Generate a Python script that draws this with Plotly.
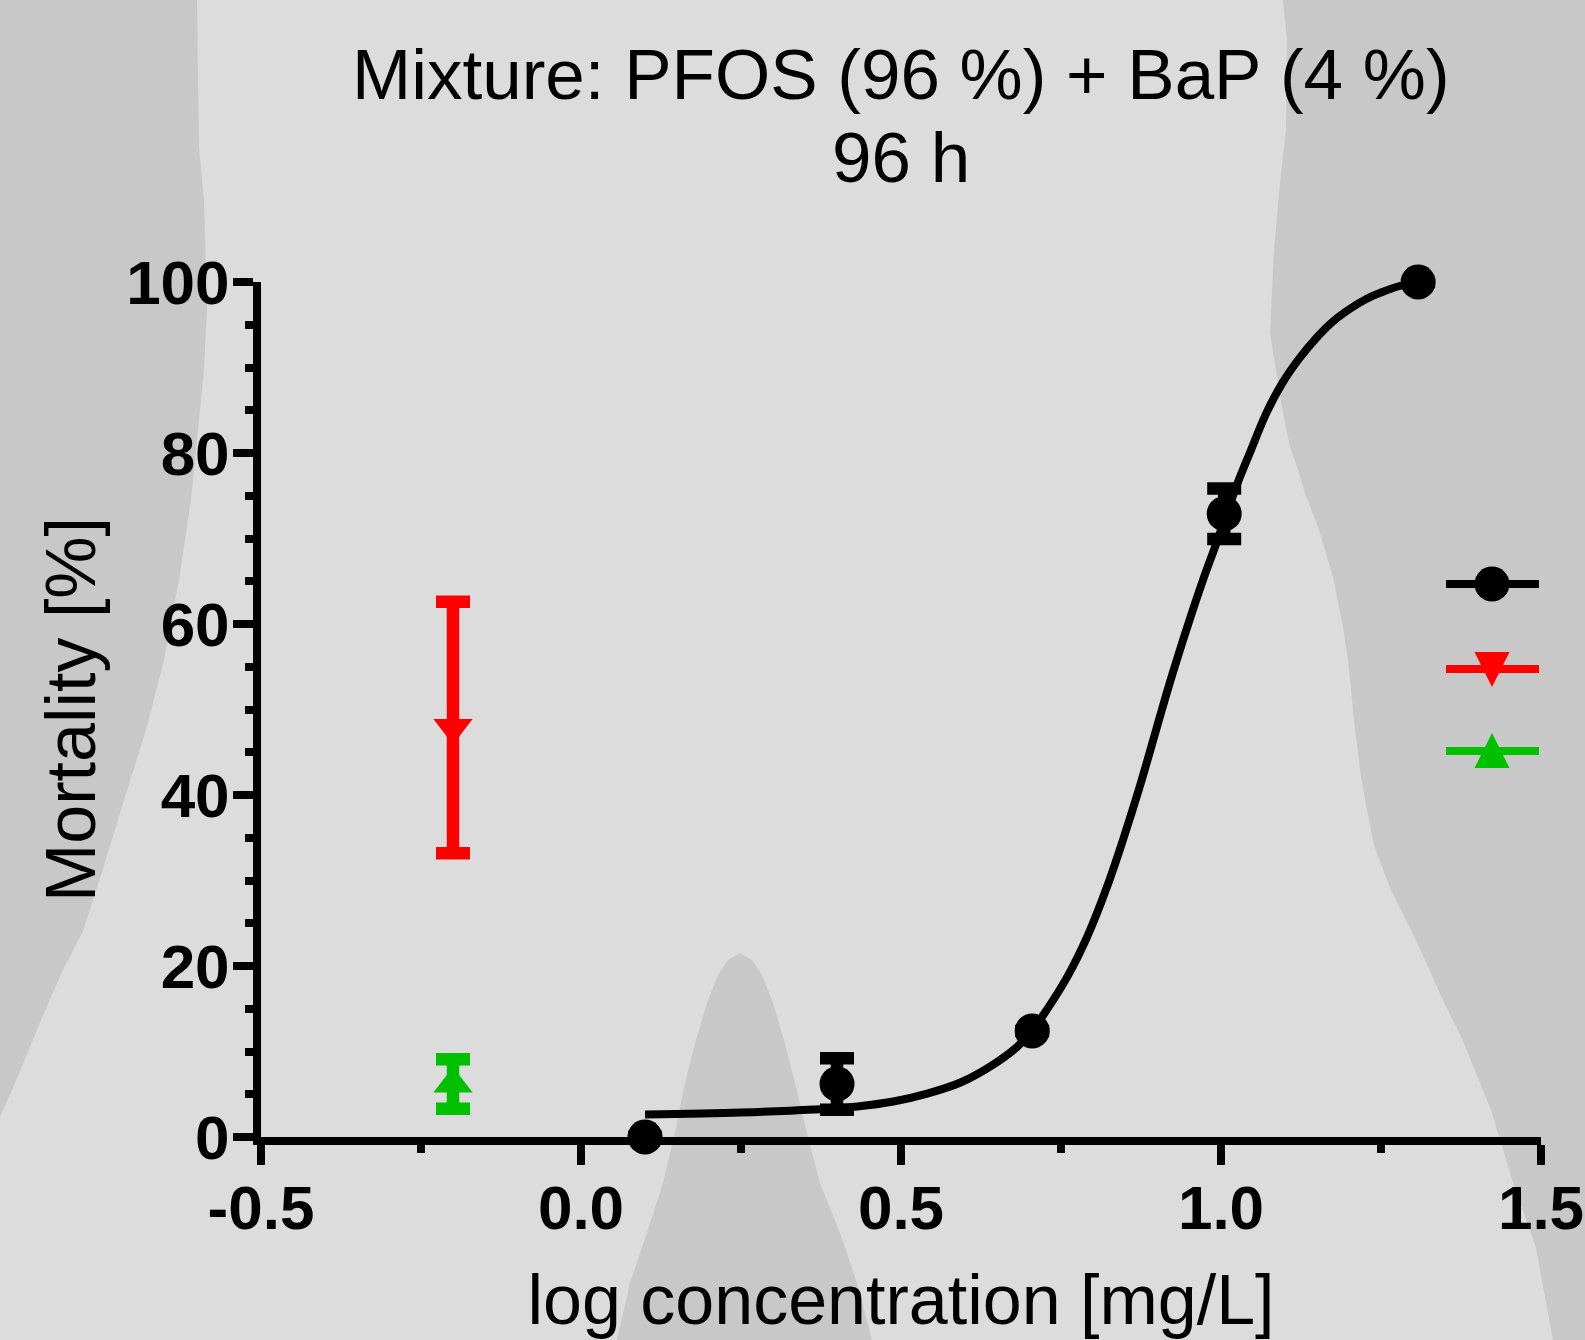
import plotly.graph_objects as go

# ---------------- data ----------------
mix_x = [0.10, 0.40, 0.705, 1.005, 1.308]
mix_y = [0.0, 6.2, 12.4, 72.9, 100.0]
mix_err = [None, 3.0, None, 2.95, None]

pfos_x = [-0.2]
pfos_y = [47.9]
pfos_err = [14.7]

bap_x = [-0.2]
bap_y = [6.2]
bap_err = [2.9]

# fitted concentration-response curve
fit_x = [0.100, 0.250, 0.364, 0.432, 0.488, 0.541, 0.593, 0.644, 0.682, 0.705,
         0.728, 0.760, 0.791, 0.822, 0.847, 0.873, 0.900, 0.920, 0.951, 0.972,
         0.993, 1.025, 1.045, 1.071, 1.096, 1.123, 1.149, 1.174, 1.201, 1.227,
         1.252, 1.279, 1.308]
fit_y = [2.63, 2.86, 3.21, 3.57, 4.15, 5.08, 6.37, 8.47, 10.58, 12.45,
         14.9, 18.76, 23.44, 29.28, 34.78, 40.97, 47.98, 53.13, 60.49, 65.17,
         69.49, 76.3, 80.0, 84.69, 88.2, 91.12, 93.45, 95.32, 96.84, 98.01,
         98.83, 99.53, 100.0]

x_tickvals = [-0.5, 0.0, 0.5, 1.0, 1.5]
x_ticktext = ["-0.5", "0.0", "0.5", "1.0", "1.5"]
y_tickvals = [0, 20, 40, 60, 80, 100]
y_ticktext = ["0", "20", "40", "60", "80", "100"]

title_line1 = "Mixture: PFOS (96 %) + BaP (4 %)"
title_line2 = "96 h"
x_title = "log concentration [mg/L]"
y_title = "Mortality [%]"

# ---------------- layout constants ----------------
W, H = 1585, 1340
L, R, T, B = 261, 44, 282, 203
PW, PH = W - L - R, H - T - B
FONT = "Liberation Sans, Arial, Helvetica, sans-serif"
BG_LIGHT = "#dcdcdc"
BG_DARK = "#c8c8c8"
BLACK = "#000000"
RED = "#ff0000"
GREEN = "#00c000"


def px2paper(px, py):
    return (px - L) / PW, (T + PH - py) / PH


def path_from_pixels(pts):
    parts = []
    for i, (px, py) in enumerate(pts):
        x, y = px2paper(px, py)
        parts.append(("M" if i == 0 else "L") + f"{x:.5f},{y:.5f}")
    return " ".join(parts) + " Z"


# decorative background regions (pixel outlines of the grey shapes)
left_region = [(0, 0), (197, 0), (199, 147), (204, 200), (207, 310), (204, 370),
               (199, 420), (191, 500), (179, 580), (164, 660), (146, 730),
               (124, 800), (103, 869), (83, 931), (62, 972), (41, 1020),
               (21, 1069), (0, 1117)]
right_region = [(1283, 0), (1287, 40), (1286, 130), (1280, 183), (1274, 250),
                (1270, 333), (1277, 377), (1283, 413), (1290, 447), (1297, 467),
                (1305, 493), (1318, 527), (1333, 577), (1343, 627), (1348, 660),
                (1354, 720), (1360, 770), (1366, 805), (1374, 845), (1390, 888),
                (1415, 938), (1443, 1000), (1463, 1041), (1491, 1110), (1512, 1179),
                (1536, 1248), (1553, 1340), (1585, 1340), (1585, 0)]
mid_region = [(617, 1340), (630, 1283), (647, 1233), (663, 1183), (675, 1133),
              (685, 1083), (696, 1040), (708, 1000), (718, 975), (728, 960),
              (740, 953), (752, 960), (762, 975), (772, 1000), (784, 1040),
              (795, 1083), (807, 1133), (820, 1183), (840, 1233), (857, 1283),
              (872, 1340)]

shapes = []
for reg in (left_region, right_region, mid_region):
    shapes.append(dict(type="path", xref="paper", yref="paper",
                       path=path_from_pixels(reg), fillcolor=BG_DARK,
                       line=dict(width=0), layer="below"))

fig = go.Figure()

# fitted curve
fig.add_trace(go.Scatter(x=fit_x, y=fit_y, mode="lines",
                         line=dict(color=BLACK, width=8, shape="spline", smoothing=1.0),
                         cliponaxis=False, showlegend=False, hoverinfo="skip"))

err_style = dict(type="data", thickness=12.5, width=17, visible=True)

fig.add_trace(go.Scatter(x=pfos_x, y=pfos_y, mode="markers", name="PFOS",
                         marker=dict(symbol="triangle-down", size=34, color=RED),
                         error_y=dict(array=pfos_err, color=RED, **err_style),
                         cliponaxis=False, showlegend=False))
fig.add_trace(go.Scatter(x=bap_x, y=bap_y, mode="markers", name="BaP",
                         marker=dict(symbol="triangle-up", size=34, color=GREEN),
                         error_y=dict(array=bap_err, color=GREEN, **err_style),
                         cliponaxis=False, showlegend=False))
fig.add_trace(go.Scatter(x=mix_x, y=mix_y, mode="markers", name="Mixture",
                         marker=dict(symbol="circle", size=35, color=BLACK),
                         error_y=dict(array=mix_err, color=BLACK, **err_style),
                         cliponaxis=False, showlegend=False))

# key (drawn on an overlay axis measured in plot-area pixels)
key_line_x = [1185, 1278]
key_marker_x = 1231
key_rows = [
    dict(color=BLACK, line_y=553, marker_y=553, symbol="circle", size=35),
    dict(color=RED, line_y=468, marker_y=450, symbol="arrow-down", size=35),
    dict(color=GREEN, line_y=386, marker_y=404, symbol="arrow-up", size=35),
]
for row in key_rows:
    fig.add_trace(go.Scatter(x=key_line_x, y=[row["line_y"]] * 2, mode="lines",
                             line=dict(color=row["color"], width=8),
                             xaxis="x2", yaxis="y2", showlegend=False,
                             hoverinfo="skip", cliponaxis=False))
    fig.add_trace(go.Scatter(x=[key_marker_x], y=[row["marker_y"]], mode="markers",
                             marker=dict(symbol=row["symbol"], size=row["size"],
                                         color=row["color"], line=dict(width=0)),
                             xaxis="x2", yaxis="y2", showlegend=False,
                             hoverinfo="skip", cliponaxis=False))

tickfont = dict(family=FONT, size=62, color=BLACK, weight="bold")
axis_common = dict(showline=True, linecolor=BLACK, linewidth=8, mirror=False,
                   ticks="outside", ticklen=20, tickwidth=8, tickcolor=BLACK,
                   showgrid=False, zeroline=False, tickfont=tickfont,
                   fixedrange=True, automargin=False)

fig.update_layout(
    width=W, height=H, autosize=False,
    margin=dict(l=L, r=R, t=T, b=B, pad=0, autoexpand=False),
    paper_bgcolor=BG_LIGHT, plot_bgcolor="rgba(0,0,0,0)",
    font=dict(family=FONT, color=BLACK),
    showlegend=False,
    shapes=shapes,
    xaxis=dict(range=[-0.5, 1.5], tickmode="array", tickvals=x_tickvals,
               ticktext=x_ticktext, ticklabelstandoff=-10,
               minor=dict(ticks="outside", ticklen=8, tickwidth=8, tickcolor=BLACK,
                          dtick=0.25, tick0=-0.5),
               title=dict(text=x_title, font=dict(family=FONT, size=70, color=BLACK),
                          standoff=37),
               **axis_common),
    yaxis=dict(range=[0, 100], tickmode="array", tickvals=y_tickvals,
               ticktext=y_ticktext, ticklabelstandoff=-9,
               minor=dict(ticks="outside", ticklen=8, tickwidth=8, tickcolor=BLACK,
                          dtick=5, tick0=0),
               title=dict(text=y_title, font=dict(family=FONT, size=70, color=BLACK),
                          standoff=11),
               **axis_common),
    xaxis2=dict(overlaying="x", range=[0, PW], visible=False, fixedrange=True,
                automargin=False),
    yaxis2=dict(overlaying="y", range=[0, PH], visible=False, fixedrange=True,
                automargin=False),
    annotations=[
        dict(text=title_line1, xref="paper", yref="paper", x=0.5,
             y=px2paper(0, 75)[1], xanchor="center", yanchor="middle",
             showarrow=False, font=dict(family=FONT, size=71, color=BLACK)),
        dict(text=title_line2, xref="paper", yref="paper", x=0.5,
             y=px2paper(0, 158)[1], xanchor="center", yanchor="middle",
             showarrow=False, font=dict(family=FONT, size=71, color=BLACK)),
    ],
)

fig.write_html("out.html",
               config={"displayModeBar": False, "responsive": False},
               post_script="document.body.style.margin='0px';"
                           "document.body.style.padding='0px';"
                           "document.body.style.overflow='hidden';")
